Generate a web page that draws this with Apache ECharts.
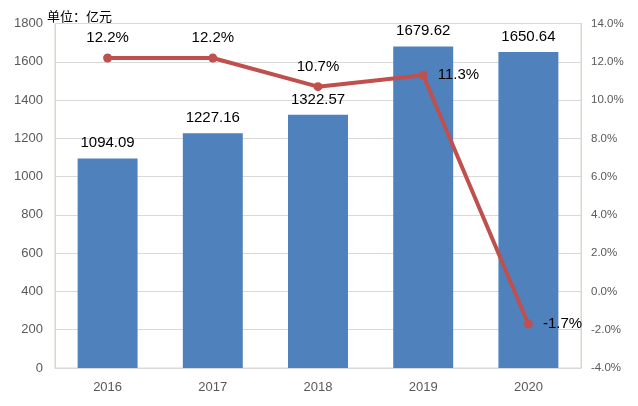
<!DOCTYPE html>
<html lang="zh">
<head>
  <meta charset="UTF-8">
  <title>单位：亿元</title>
  <script src="https://cdn.jsdelivr.net/npm/echarts@6/dist/echarts.min.js"></script>
  <style>
    body { margin: 0; background: #fff; }
    #chart { width: 638px; height: 406px; }
  </style>
</head>
<body>
  <div id="chart"></div>
  <script>
    const years = ['2016', '2017', '2018', '2019', '2020'];
    const revenue = [1094.09, 1227.16, 1322.57, 1679.62, 1650.64];
    const growth = [12.2, 12.2, 10.7, 11.3, -1.7];
    // where each growth label sits relative to its point
    const growthLabelPos = ['top', 'top', 'top', 'right', 'right'];

    const axisText = { color: '#595959', fontSize: 13, fontFamily: 'Liberation Sans' };

    const chart = echarts.init(document.getElementById('chart'));
    chart.setOption({
      animation: false,
      title: {
        text: '单位：亿元',
        left: 42, top: 5,
        textStyle: { fontSize: 13, fontWeight: 'normal', color: '#000', fontFamily: 'Noto Sans CJK SC' }
      },
      grid: { left: 55, right: 57, top: 23.5, bottom: 38, show: true, borderColor: '#d9d6cc', borderWidth: 1 },
      xAxis: {
        type: 'category',
        data: years,
        axisTick: { show: false },
        axisLine: { lineStyle: { color: '#d9d9d9' } },
        axisLabel: Object.assign({ margin: 13 }, axisText)
      },
      yAxis: [
        {
          type: 'value', min: 0, max: 1800, interval: 200,
          axisLine: { show: true, lineStyle: { color: '#d9d6cc' } },
          splitLine: { lineStyle: { color: '#d9d9d9' } },
          axisLabel: Object.assign({ margin: 12, formatter: v => String(v) }, axisText)
        },
        {
          type: 'value', min: -4, max: 14, interval: 2,
          axisLine: { show: true, lineStyle: { color: '#d9d6cc' } },
          splitLine: { show: false },
          axisLabel: Object.assign({ margin: 10, formatter: v => v.toFixed(1) + '%' }, axisText, { fontSize: 11.5 })
        }
      ],
      series: [
        {
          type: 'bar',
          data: revenue,
          barWidth: '57%',
          itemStyle: { color: '#4f81bd' },
          label: { show: true, position: 'top', distance: 8, fontSize: 15, color: '#000', fontFamily: 'Liberation Sans' }
        },
        {
          type: 'line',
          yAxisIndex: 1,
          data: growth.map((v, i) => ({
            value: v,
            label: { position: growthLabelPos[i], distance: growthLabelPos[i] === 'top' ? 8 : 10 }
          })),
          symbol: 'circle',
          symbolSize: 9,
          lineStyle: { color: '#c0504d', width: 4 },
          itemStyle: { color: '#c0504d' },
          label: { show: true, formatter: p => p.value.toFixed(1) + '%', fontSize: 15, color: '#000', fontFamily: 'Liberation Sans' }
        }
      ]
    });
  </script>
</body>
</html>
